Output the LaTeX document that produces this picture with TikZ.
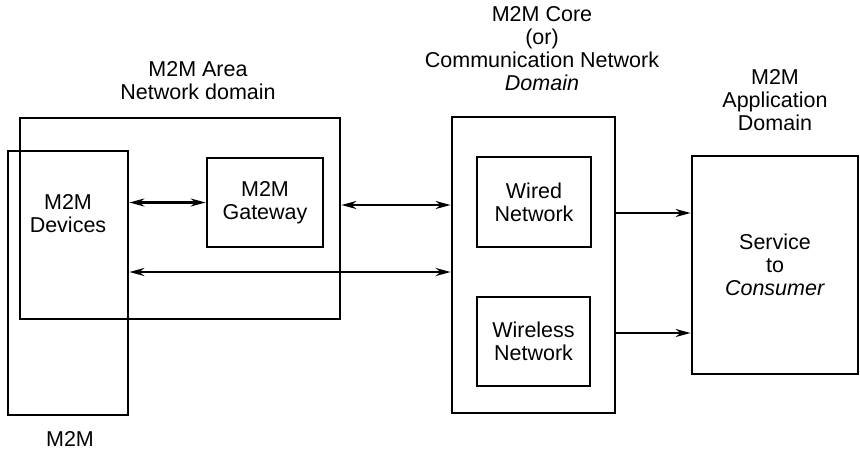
\documentclass[tikz,border=0pt]{standalone}
\usepackage{fontspec}
\setmainfont{Liberation Sans}
\usetikzlibrary{arrows.meta}
\begin{document}
\begin{tikzpicture}[x=1pt,y=-1pt,
  every node/.style={font=\fontsize{21.5}{23}\selectfont, align=center, inner sep=0pt},
  frame/.style={draw, line width=2.8pt},
  link/.style={line width=2.2pt, -{Stealth[length=15pt,width=8pt]}},
  dlink/.style={line width=2.2pt, {Stealth[length=15pt,width=8pt]}-{Stealth[length=15pt,width=8pt]}}]
\useasboundingbox (0,0) rectangle (860,451);

% domain frames
\node[frame, minimum width=320pt, minimum height=201pt] (area) at (180,218.5) {};
\node[frame, minimum width=120pt, minimum height=264pt] (dev) at (68,283) {};
\node[frame, minimum width=163pt, minimum height=296pt] (core) at (533.5,265) {};

% inner blocks
\node[frame, minimum width=116pt, minimum height=89pt] (gw) at (265,202.5) {M2M\\Gateway};
\node[frame, minimum width=114pt, minimum height=90pt] (wired) at (534,202) {Wired\\Network};
\node[frame, minimum width=113pt, minimum height=89pt] (wless) at (533.5,341.5) {Wireless\\Network};
\node[frame, minimum width=166pt, minimum height=218pt] (app) at (775,265) {Service\\to\\\textit{Consumer}};
\node (devtxt) at (68,214) {M2M\\Devices};

% domain captions
\node (areatxt) at (198,81) {M2M Area\\Network domain};
\node (coretxt) at (542,49) {M2M Core\\(or)\\Communication Network\\\textit{Domain}};
\node (apptxt) at (775,100) {M2M\\Application\\Domain};
\node (m2mtxt) at (70,439) {M2M};

% connector rows
\coordinate (r1) at (0,205);
\coordinate (r2) at (0,272);
\coordinate (r3) at (0,213);
\coordinate (r4) at (0,333);

\draw[dlink] (dev.east |- gw.west) -- (gw.west);
\draw[dlink] (area.east |- r1) -- (core.west |- r1);
\draw[dlink] (dev.east |- r2) -- (core.west |- r2);
\draw[link] (core.east |- r3) -- (app.west |- r3);
\draw[link] (core.east |- r4) -- (app.west |- r4);
\end{tikzpicture}
\end{document}
